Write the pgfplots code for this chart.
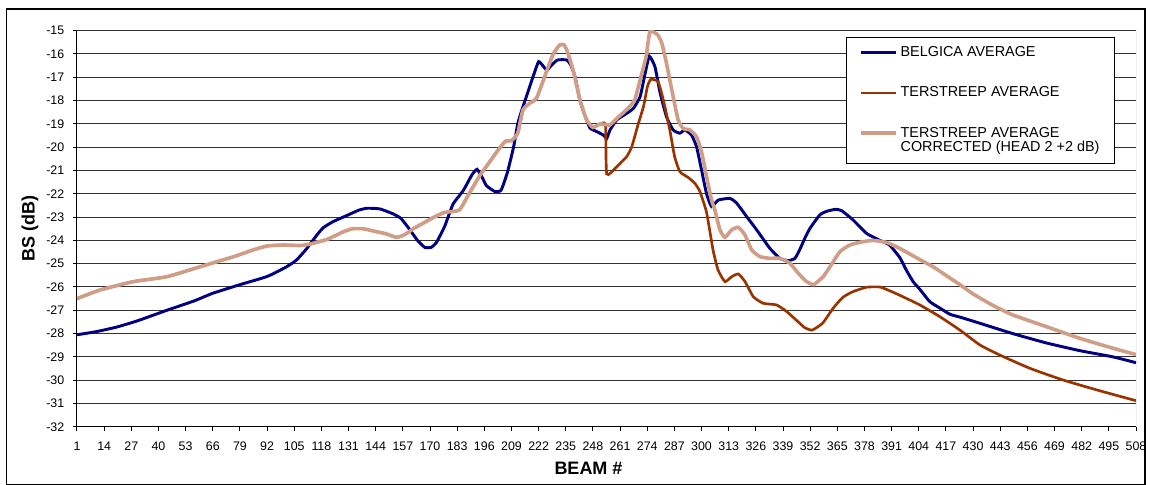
\documentclass[border=0pt]{standalone}
\usepackage{fontspec}
\setmainfont{Liberation Sans}
\usepackage{pgfplots}
\usepackage{pgfplotstable}
\pgfplotsset{compat=1.18}
\definecolor{belg}{RGB}{0,0,128}
\definecolor{ters}{RGB}{153,51,0}
\definecolor{corr}{RGB}{208,158,135}
\pgfplotsset{twoline/.style={legend image code/.code={\draw[##1] (0pt,5.5pt) -- (26pt,5.5pt);}}}

\pgfplotstableread{
b v
1 -28.05
10 -27.92
20 -27.72
30 -27.45
44 -27.0
57 -26.6
66 -26.27
79 -25.9
92 -25.55
101 -25.15
106 -24.85
111 -24.35
116 -23.75
119 -23.45
123.5 -23.2
131 -22.9
136 -22.7
140 -22.62
146 -22.65
152 -22.85
156 -23.05
160 -23.5
164 -24.0
167.5 -24.3
170.5 -24.3
173 -24.1
177 -23.4
181 -22.45
186 -21.85
190 -21.2
192.5 -20.95
195 -21.3
197 -21.65
201 -21.9
204 -21.85
207 -21.1
210 -20.0
212 -19.0
214 -18.4
217 -17.6
220 -16.8
222 -16.33
224 -16.5
226 -16.7
228 -16.5
231 -16.26
235.5 -16.26
237.5 -16.5
239.5 -17.0
241.8 -18.0
244 -18.6
246.6 -19.18
249.8 -19.33
253 -19.48
254.6 -19.62
256.2 -19.26
259.4 -18.83
264.2 -18.55
267.4 -18.33
270.6 -17.83
273 -16.83
275 -16.1
277.7 -16.55
280 -17.6
283.2 -18.69
286.4 -19.26
289.6 -19.4
292 -19.26
295.2 -19.48
297.6 -19.98
300 -20.98
302.4 -22.0
304.8 -22.55
308 -22.27
313.6 -22.2
316.8 -22.4
321.6 -22.98
326.4 -23.55
332.7 -24.34
337.5 -24.77
341.5 -24.87
344.7 -24.77
347 -24.4
349.5 -23.9
352 -23.47
356.7 -22.9
360 -22.75
364 -22.67
367 -22.72
372.5 -23.12
379 -23.7
385.4 -24.0
390 -24.2
395 -24.75
398 -25.27
401.3 -25.77
404.5 -26.1
409.3 -26.63
414 -26.9
418.9 -27.17
424 -27.3
433 -27.55
449 -28.0
465 -28.4
481 -28.73
497 -29.0
508 -29.25
}\belgica

\pgfplotstableread{
b v
1 -26.5
12 -26.13
28 -25.77
44 -25.56
60 -25.13
76 -24.7
85 -24.42
92 -24.24
100 -24.2
108 -24.22
113 -24.15
121 -23.95
128 -23.65
133 -23.5
138 -23.5
143 -23.6
149 -23.72
154 -23.87
158 -23.75
162 -23.5
167 -23.25
172 -23.0
177 -22.8
184 -22.7
189 -21.95
194 -21.2
198 -20.7
202 -20.2
206 -19.75
209 -19.72
212 -19.4
214.5 -18.4
218 -18.1
221 -17.9
226 -16.7
229 -16.0
232 -15.62
234 -15.6
235.5 -15.83
238.5 -16.69
241.8 -17.97
245 -18.83
248 -19.15
251.5 -19.0
254 -19.05
254.6 -21.15
259.4 -20.84
264.2 -20.4
266.6 -19.98
269.8 -18.97
272.2 -18.26
274.1 -17.4
275.7 -17.09
279.2 -17.19
281.7 -17.97
284.8 -19.26
287.1 -20.4
289.6 -21.05
293.6 -21.3
296.8 -21.55
299.2 -21.9
302.4 -22.8
305.5 -24.41
307.9 -25.27
311.2 -25.77
314.4 -25.56
317.6 -25.44
320.8 -25.77
324.8 -26.42
329.5 -26.7
335.9 -26.77
340.7 -27.05
346.3 -27.5
349.5 -27.75
353 -27.85
358 -27.55
363 -26.91
367.7 -26.44
372.5 -26.2
379 -26.01
385.4 -26.0
390 -26.16
395 -26.36
404.5 -26.77
414 -27.27
423.7 -27.85
433.3 -28.49
442.8 -28.92
457.2 -29.49
473 -29.99
489.3 -30.42
508 -30.88
}\terstreep

\pgfplotstableread{
b v
1 -26.5
12 -26.13
28 -25.77
44 -25.56
60 -25.13
76 -24.7
85 -24.42
92 -24.24
100 -24.2
108 -24.22
113 -24.15
121 -23.95
128 -23.65
133 -23.5
138 -23.5
143 -23.6
149 -23.72
154 -23.87
158 -23.75
162 -23.5
167 -23.25
172 -23.0
177 -22.8
184 -22.7
189 -21.95
194 -21.2
198 -20.7
202 -20.2
206 -19.75
209 -19.72
212 -19.4
214.5 -18.4
218 -18.1
221 -17.9
226 -16.7
229 -16.0
232 -15.62
234 -15.6
235.5 -15.83
238.5 -16.69
241.8 -17.97
245 -18.83
248 -19.15
251.5 -19.0
256 -19.05
259.5 -18.76
264 -18.4
268 -17.97
271 -16.97
273.5 -16.1
275.3 -15.04
279 -15.18
281 -15.54
283.2 -16.4
286.4 -17.83
288.8 -18.83
291.2 -19.2
294.4 -19.26
297.6 -19.55
300 -20.2
302.4 -21.26
304.8 -22.27
306.4 -22.7
308.8 -23.55
311.2 -23.87
314.4 -23.55
317.6 -23.44
320.8 -23.77
324 -24.41
328 -24.7
332.7 -24.77
337.5 -24.77
342.3 -24.98
346.3 -25.41
350 -25.75
353.6 -25.9
358.2 -25.56
361.5 -25.13
366.3 -24.48
371 -24.2
376 -24.08
382 -24.0
389 -24.1
395 -24.35
400 -24.6
405 -24.85
410.8 -25.13
417 -25.5
423.7 -25.9
430 -26.3
439.7 -26.8
449 -27.2
465 -27.7
481 -28.2
497 -28.63
508 -28.9
}\corrected

\begin{document}
\begin{tikzpicture}
\useasboundingbox (0pt,0pt) rectangle (862.5pt,363.75pt);
\draw[black, line width=0.9pt] (5pt,0.5pt) rectangle (858.75pt,357pt);
\begin{axis}[
  at={(57.75pt,43.65pt)}, anchor=south west,
  scale only axis, width=794.25pt, height=297.1pt,
  xmin=1, xmax=508, ymin=-32, ymax=-15,
  xtick={1,14,...,508}, ytick={-32,-31,...,-15},
  axis x line*=bottom, axis y line*=left,
  axis line style={black, line width=0.75pt, -},
  tick style={black, line width=0.75pt},
  tick align=outside, major tick length=3pt,
  ymajorgrids, major grid style={black!80, line width=0.75pt},
  /pgf/number format/assume math mode=true,
  ticklabel style={font=\fontsize{9.3}{11}\selectfont},
  yticklabel style={xshift=-3pt},
  xticklabel style={yshift=-5pt},
  xlabel={BEAM \#}, ylabel={BS (dB)},
  every axis x label/.style={at={(axis description cs:0.483,0)}, anchor=center, yshift=-31.5pt, font=\fontsize{13.5}{15}\selectfont\bfseries},
  every axis y label/.style={at={(axis description cs:0,0.5)}, anchor=center, rotate=90, yshift=35.25pt, font=\fontsize{13.5}{15}\selectfont\bfseries},
  legend style={at={(axis description cs:0.726,0.984)}, anchor=north west,
    draw=black, line width=0.75pt, fill=white,
    font=\fontsize{10.8}{11}\selectfont,
    inner xsep=10pt, inner ysep=6pt, row sep=19pt, column sep=1pt,
    cells={anchor=west}, nodes={inner sep=1pt, align=left}},
  legend image code/.code={\draw[#1] (0pt,0pt) -- (26pt,0pt);},
]
\draw[black!50, line width=0.75pt] (rel axis cs:1,0) -- (rel axis cs:1,1);
\addplot[belg, line width=2.2pt, smooth, tension=0.3] table[x=b, y=v] {\belgica};
\addlegendentry{BELGICA AVERAGE}
\addplot[ters, line width=2pt, smooth, tension=0.3] table[x=b, y=v] {\terstreep};
\addlegendentry{TERSTREEP AVERAGE}
\addplot[corr, line width=2.7pt, smooth, tension=0.3, twoline] table[x=b, y=v] {\corrected};
\addlegendentry{TERSTREEP AVERAGE\\CORRECTED (HEAD 2 +2 dB)}
\end{axis}
\end{tikzpicture}
\end{document}
